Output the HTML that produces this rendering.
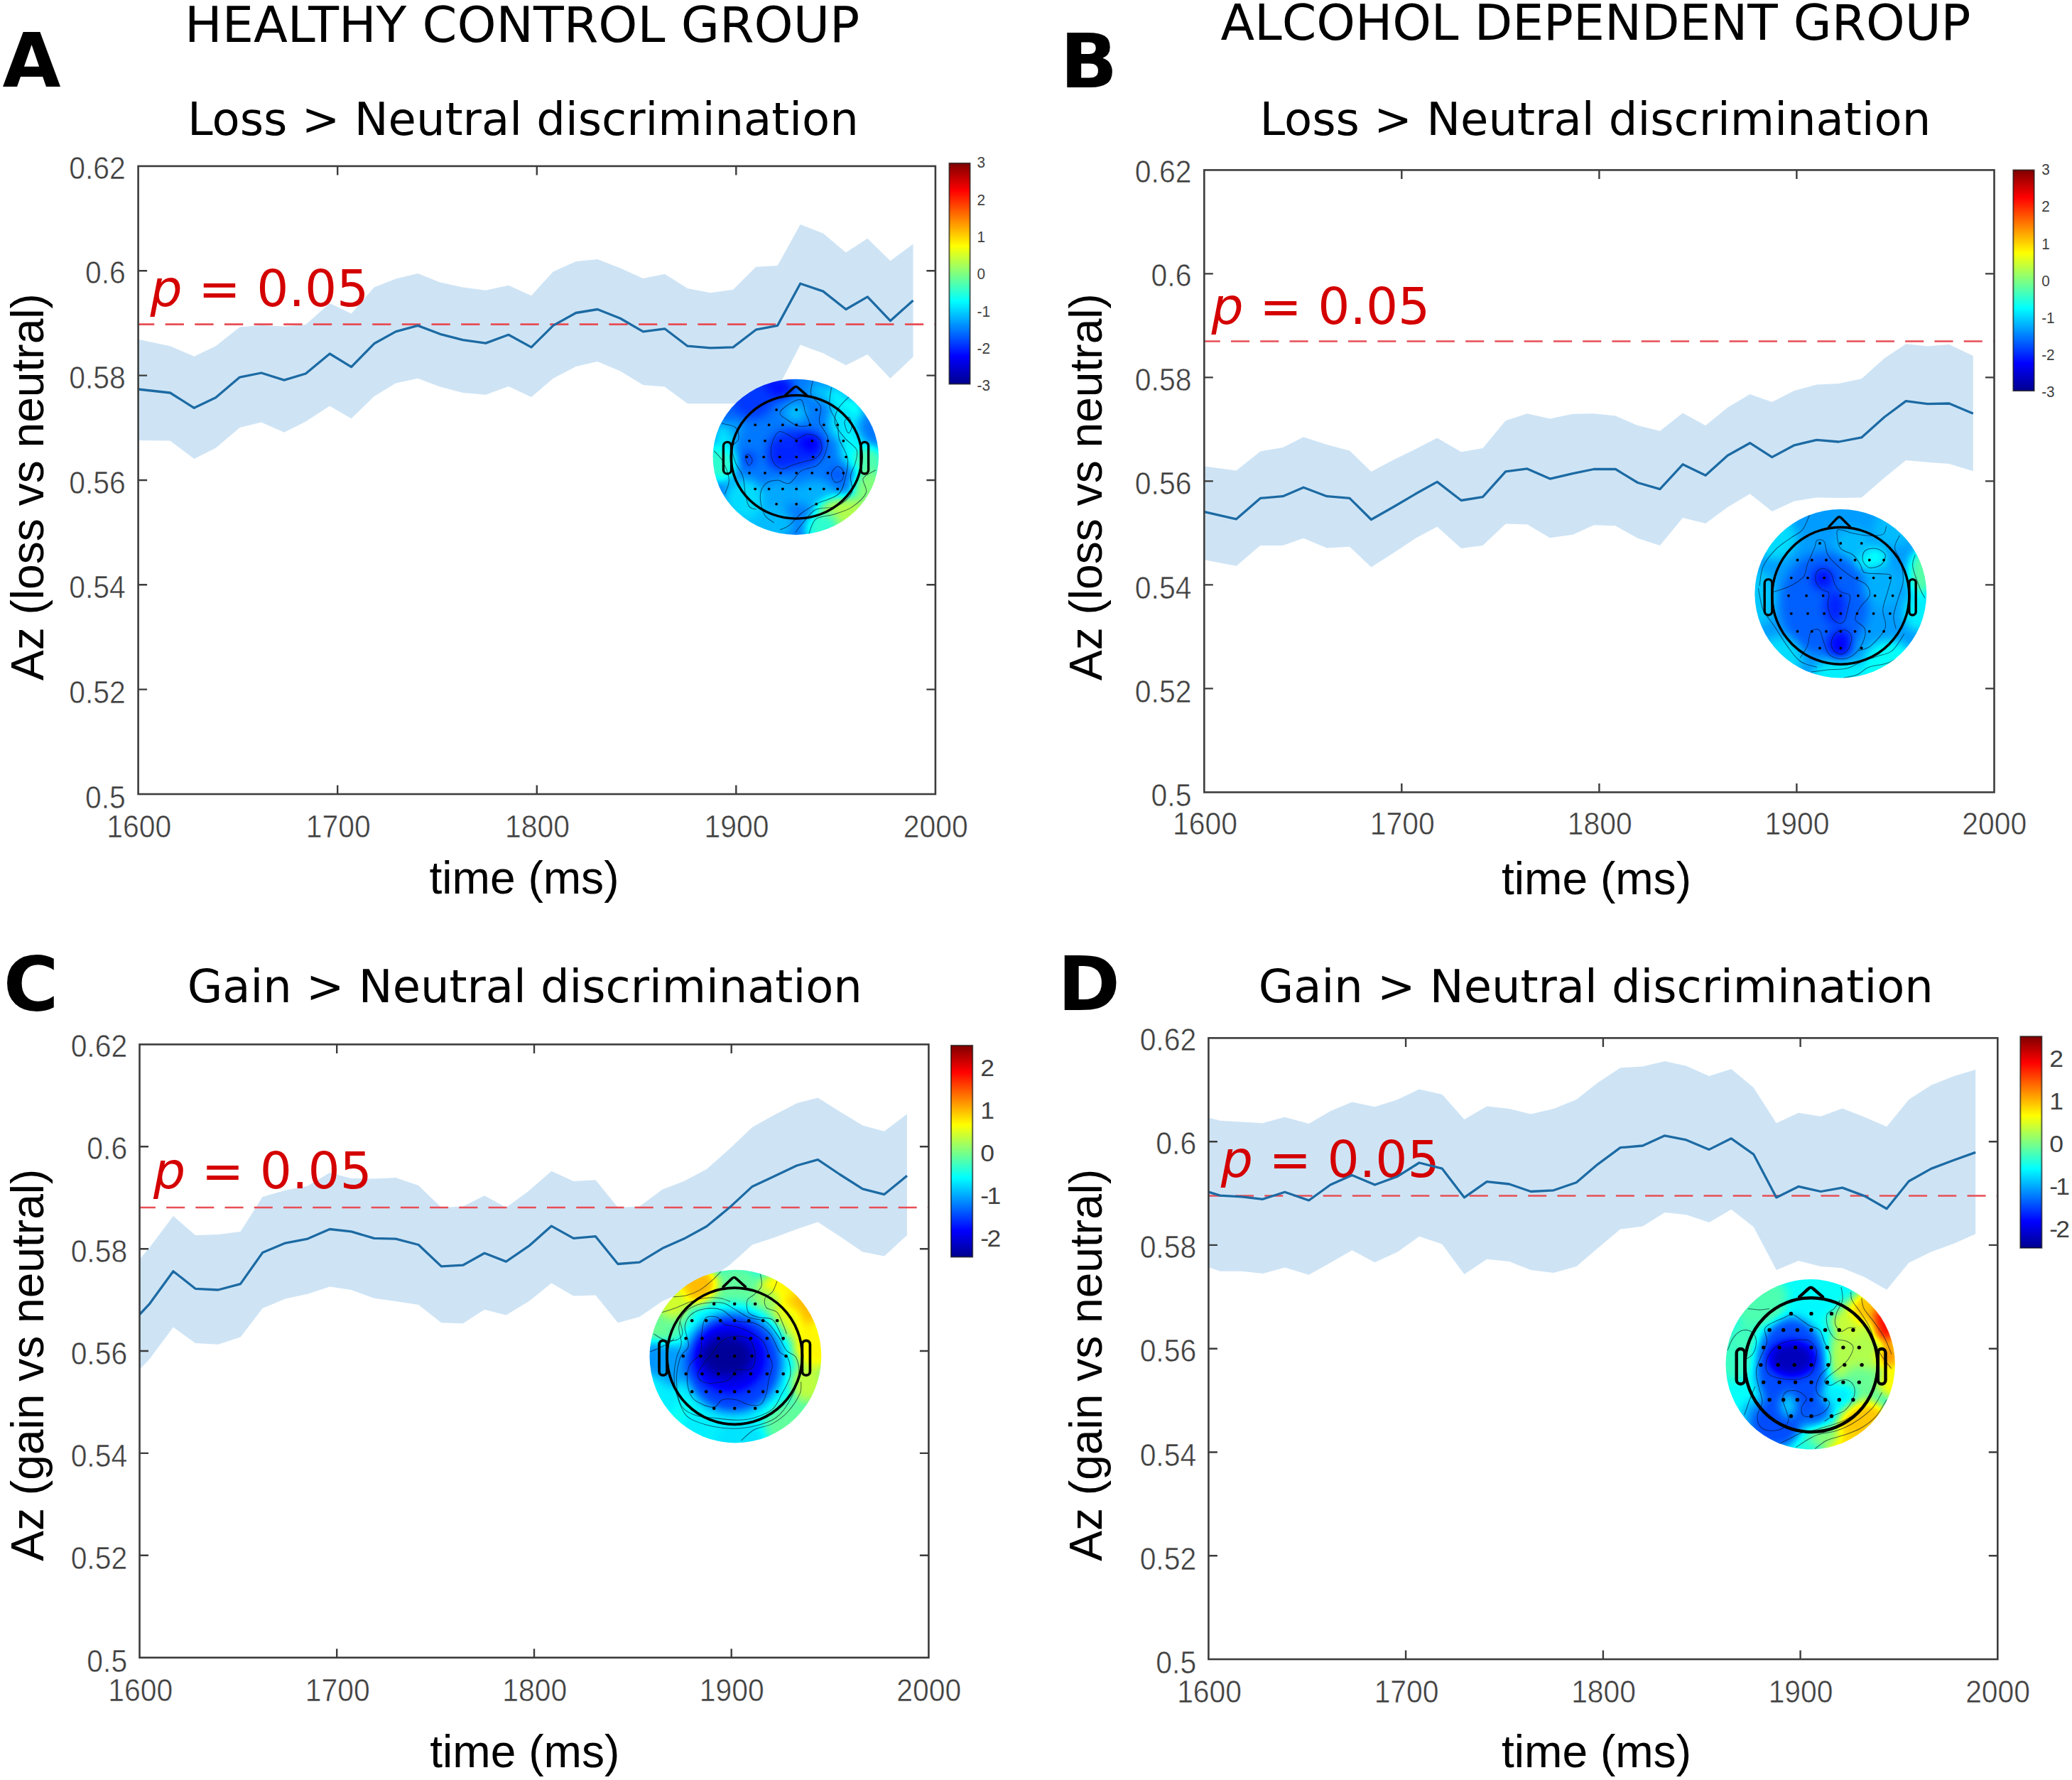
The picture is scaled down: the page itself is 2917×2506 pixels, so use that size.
<!DOCTYPE html>
<html lang="en"><head><meta charset="utf-8"><title>Figure</title>
<style>html,body{margin:0;padding:0;background:#fff}svg{display:block}.dv{font-family:"DejaVu Sans","Liberation Sans",sans-serif}.lb{font-family:"Liberation Sans","DejaVu Sans",sans-serif}</style></head><body>
<svg width="2917" height="2506" viewBox="0 0 2917 2506">
<defs>
<linearGradient id="jet" x1="0" y1="1" x2="0" y2="0"><stop offset="0" stop-color="#00008f"/><stop offset="0.125" stop-color="#0000ff"/><stop offset="0.375" stop-color="#00ffff"/><stop offset="0.625" stop-color="#ffff00"/><stop offset="0.875" stop-color="#ff0000"/><stop offset="1" stop-color="#800000"/></linearGradient>
<filter id="jetmap" x="-20%" y="-20%" width="140%" height="140%" color-interpolation-filters="sRGB"><feGaussianBlur stdDeviation="7"/><feComponentTransfer><feFuncR type="table" tableValues="0 0 0 0 0.5 1 1 1 0.5"/><feFuncG type="table" tableValues="0 0 0.5 1 1 1 0.5 0 0"/><feFuncB type="table" tableValues="0.56 1 1 1 0.5 0 0 0 0"/><feFuncA type="linear" slope="0" intercept="1"/></feComponentTransfer></filter>
<clipPath id="tcA"><ellipse cx="1120.3" cy="643.3" rx="116.7" ry="109.6"/></clipPath>
<clipPath id="tcB"><ellipse cx="2591.3" cy="835.8" rx="120.9" ry="118.8"/></clipPath>
<clipPath id="tcC"><ellipse cx="1035.4" cy="1909.6" rx="120.9" ry="121.8"/></clipPath>
<clipPath id="tcD"><ellipse cx="2548.7" cy="1920.8" rx="119.2" ry="119.7"/></clipPath>
</defs>
<rect width="2917" height="2506" fill="#fff"/>
<text class="dv" x="260.1" y="58.5" font-size="70" fill="#000">HEALTHY CONTROL GROUP</text>
<text class="dv" x="1718.4" y="55.6" font-size="69.5" fill="#000">ALCOHOL DEPENDENT GROUP</text>
<g id="panelA">
<text class="dv" x="3.5" y="122.0" font-size="106" font-weight="bold" fill="#000">A</text>
<text class="dv" x="264.0" y="190.2" font-size="64" fill="#000">Loss &gt; Neutral discrimination</text>
<polygon points="194.6,477.7 239.5,487.2 273.3,501.7 303.7,487.2 337.5,460.5 367.9,458.1 400.0,459.5 430.4,457.1 464.2,427.0 494.6,441.6 526.7,404.4 557.1,392.6 588.2,385.1 619.6,397.6 651.7,404.4 683.8,408.8 715.9,401.7 748.0,416.2 778.7,382.4 810.8,367.9 841.2,364.9 873.3,377.4 905.4,391.9 935.8,385.8 967.9,406.1 1000.0,412.2 1032.1,407.8 1064.2,375.7 1094.6,374.0 1126.7,315.9 1158.8,328.4 1190.9,355.4 1221.3,335.8 1253.4,367.2 1285.5,343.6 1285.5,502.4 1253.4,532.8 1221.3,499.0 1190.9,514.2 1158.8,497.3 1126.7,485.5 1094.9,547.0 1064.2,567.2 1032.1,568.2 1000.0,568.2 967.9,568.2 935.8,544.6 905.4,541.9 873.3,522.6 841.2,509.1 810.8,515.9 778.7,532.8 748.0,559.1 715.9,543.9 683.8,555.7 651.7,553.0 619.6,544.6 588.2,532.8 557.1,539.5 526.7,558.1 494.6,589.2 464.2,571.6 430.4,593.6 400.0,608.8 367.9,594.6 337.5,602.0 303.7,630.7 273.3,645.9 239.5,620.6 194.6,619.9" fill="#cee4f5"/>
<line x1="194.6" y1="456.7" x2="1316.9" y2="456.7" stroke="#e84e55" stroke-width="2.7" stroke-dasharray="26.30 15.35" stroke-dashoffset="3.6"/>
<text class="dv" x="211.5" y="430.5" font-size="71" fill="#d40000"><tspan font-style="italic">p</tspan> = 0.05</text>
<polyline points="194.6,548.0 239.5,553.0 273.3,574.3 303.7,559.8 337.5,531.1 367.9,525.0 400.0,535.1 430.4,526.0 464.2,498.0 494.6,516.6 526.7,483.8 557.1,466.9 588.2,458.4 619.6,470.3 651.7,478.7 683.8,483.1 715.9,471.3 748.0,488.9 778.7,458.4 810.8,440.5 841.2,435.5 873.3,448.3 905.4,466.9 935.8,462.8 967.9,487.2 1000.0,489.9 1032.1,488.9 1064.2,464.2 1094.6,458.4 1126.7,399.3 1158.8,410.1 1190.9,435.5 1221.3,417.9 1253.4,451.7 1285.5,423.0" fill="none" stroke="#1c6aa3" stroke-width="3.3" stroke-linejoin="round"/>
<g id="topoA">
<g clip-path="url(#tcA)">
<g filter="url(#jetmap)">
<rect x="963.6" y="493.7" width="313.4" height="299.2" fill="#3e3e3e"/>
<ellipse cx="1087.3" cy="546.3" rx="32.0" ry="17.0" fill="#242424"/>
<ellipse cx="1058.3" cy="563.3" rx="30.0" ry="26.0" fill="#2e2e2e"/>
<ellipse cx="1030.3" cy="593.3" rx="16.0" ry="20.0" fill="#383838"/>
<ellipse cx="1130.3" cy="544.3" rx="14.0" ry="12.0" fill="#404040"/>
<ellipse cx="1154.3" cy="550.3" rx="14.0" ry="14.0" fill="#4f4f4f"/>
<ellipse cx="1178.3" cy="559.3" rx="15.0" ry="16.0" fill="#5c5c5c"/>
<ellipse cx="1198.3" cy="579.3" rx="16.0" ry="18.0" fill="#6b6b6b"/>
<ellipse cx="1120.3" cy="581.3" rx="16.0" ry="14.0" fill="#4f4f4f"/>
<ellipse cx="1120.3" cy="631.3" rx="40.0" ry="27.0" fill="#2b2b2b"/>
<ellipse cx="1141.3" cy="623.3" rx="16.0" ry="14.0" fill="#1f1f1f"/>
<ellipse cx="1101.3" cy="643.3" rx="22.0" ry="18.0" fill="#292929"/>
<ellipse cx="1054.3" cy="646.3" rx="10.0" ry="10.0" fill="#2e2e2e"/>
<ellipse cx="1177.3" cy="668.3" rx="12.0" ry="12.0" fill="#363636"/>
<ellipse cx="1098.3" cy="695.3" rx="28.0" ry="20.0" fill="#4a4a4a"/>
<ellipse cx="1148.3" cy="695.3" rx="30.0" ry="20.0" fill="#4c4c4c"/>
<ellipse cx="1187.3" cy="595.3" rx="22.0" ry="26.0" fill="#595959"/>
<ellipse cx="1200.3" cy="631.3" rx="18.0" ry="26.0" fill="#5e5e5e"/>
<ellipse cx="1224.3" cy="651.3" rx="22.0" ry="24.0" fill="#737373"/>
<ellipse cx="1190.3" cy="738.3" rx="48.0" ry="40.0" fill="#8c8c8c"/>
<ellipse cx="1224.3" cy="688.3" rx="24.0" ry="26.0" fill="#808080"/>
<ellipse cx="1157.3" cy="743.3" rx="24.0" ry="22.0" fill="#6b6b6b"/>
<ellipse cx="1081.3" cy="738.3" rx="36.0" ry="26.0" fill="#4f4f4f"/>
<ellipse cx="1047.3" cy="703.3" rx="28.0" ry="30.0" fill="#575757"/>
<ellipse cx="1013.3" cy="651.3" rx="24.0" ry="28.0" fill="#6b6b6b"/>
<ellipse cx="1020.3" cy="615.3" rx="16.0" ry="20.0" fill="#595959"/>
<ellipse cx="1035.3" cy="601.3" rx="12.0" ry="12.0" fill="#474747"/>
</g>
<g fill="none" stroke="#06122a" stroke-opacity="0.62" stroke-width="1.05">
<path d="M1087.9 621.4C1089.7 616.6 1092.9 609.6 1096.3 607.9C1099.7 606.2 1103.9 609.6 1108.1 611.2C1112.3 612.9 1116.8 618.0 1121.6 618.0C1126.4 618.0 1131.7 611.5 1136.8 611.2C1141.8 611.0 1148.5 612.9 1151.9 616.3C1155.3 619.7 1157.5 626.7 1157.0 631.5C1156.4 636.2 1152.8 641.9 1148.5 645.0C1144.3 648.0 1137.3 648.3 1131.7 650.0C1126.1 651.7 1119.9 653.4 1114.8 655.1C1109.8 656.8 1105.6 660.7 1101.4 660.1C1097.1 659.6 1092.2 655.6 1089.6 651.7C1086.9 647.8 1085.6 641.6 1085.3 636.5C1085.1 631.5 1086.0 626.1 1087.9 621.4Z"/>
<path d="M1098.0 580.9C1098.8 577.0 1108.1 570.4 1113.2 567.4C1118.2 564.5 1125.0 561.2 1128.3 563.2C1131.7 565.2 1131.6 573.5 1133.4 579.2C1135.2 585.0 1141.0 594.4 1139.3 597.8C1137.6 601.1 1128.5 600.6 1123.3 599.4C1118.1 598.3 1112.3 594.1 1108.1 591.0C1103.9 587.9 1097.1 584.8 1098.0 580.9Z"/>
<path d="M1144.3 536.2C1143.9 539.5 1140.0 549.6 1141.8 555.6C1143.6 561.7 1153.3 566.0 1155.3 572.5C1157.3 578.9 1151.9 587.1 1153.6 594.4C1155.3 601.7 1164.1 608.7 1165.4 616.3C1166.7 623.9 1163.7 633.4 1161.2 639.9C1158.7 646.4 1155.7 651.3 1150.2 655.1C1144.8 658.9 1134.8 658.4 1128.3 662.6C1121.9 666.9 1117.1 678.1 1111.5 680.3C1105.8 682.6 1100.2 676.0 1094.6 676.1C1089.0 676.3 1081.8 677.4 1077.8 681.2C1073.7 685.0 1070.5 691.7 1070.2 698.9C1069.9 706.1 1072.8 718.0 1076.1 724.2C1079.3 730.4 1087.3 734.0 1089.6 736.0"/>
<path d="M1170.5 545.5C1170.0 550.0 1166.5 564.0 1167.9 572.5C1169.3 580.9 1176.6 588.5 1178.9 596.1C1181.1 603.7 1179.0 609.8 1181.4 618.0C1183.8 626.1 1191.7 636.2 1193.2 645.0C1194.8 653.7 1192.8 661.8 1190.7 670.2C1188.6 678.7 1187.3 689.1 1180.6 695.5C1173.8 702.0 1158.9 704.5 1150.2 709.0C1141.5 713.5 1134.8 717.4 1128.3 722.5C1121.9 727.5 1116.5 735.4 1111.5 739.3C1106.4 743.3 1100.2 745.0 1098.0 746.1"/>
<path d="M1196.6 557.3C1193.8 560.4 1183.2 569.4 1179.7 575.8C1176.2 582.3 1174.0 589.3 1175.5 596.1C1177.1 602.8 1183.9 610.1 1189.0 616.3C1194.1 622.5 1203.3 627.3 1205.9 633.2C1208.4 639.1 1205.6 645.5 1204.2 651.7C1202.8 657.9 1198.3 663.2 1197.4 670.2C1196.6 677.3 1202.2 686.8 1199.1 693.8C1196.0 700.9 1187.3 708.4 1178.9 712.4C1170.5 716.3 1156.4 713.8 1148.5 717.4C1140.7 721.1 1136.5 728.9 1131.7 734.3C1126.9 739.6 1121.9 746.9 1119.9 749.5"/>
<path d="M1170.5 666.9C1171.0 663.2 1176.1 657.3 1178.9 656.8C1181.7 656.2 1186.2 660.4 1187.3 663.5C1188.4 666.6 1187.6 672.8 1185.6 675.3C1183.7 677.8 1178.0 680.1 1175.5 678.7C1173.0 677.3 1169.9 670.5 1170.5 666.9Z"/>
<path d="M1049.1 643.3C1049.1 640.7 1052.5 639.1 1054.2 639.9C1055.8 640.7 1059.2 645.8 1059.2 648.3C1059.2 650.9 1055.8 655.9 1054.2 655.1C1052.5 654.2 1049.1 645.8 1049.1 643.3Z"/>
<path d="M1016.2 596.1C1019.5 597.1 1031.7 598.3 1035.6 602.0C1039.6 605.6 1040.7 613.3 1039.8 618.0C1039.0 622.6 1031.3 624.2 1030.6 629.8C1029.9 635.4 1033.1 645.0 1035.6 651.7C1038.1 658.4 1043.5 663.2 1045.7 670.2C1048.0 677.3 1047.7 686.8 1049.1 693.8C1050.5 700.9 1051.6 708.4 1054.2 712.4C1056.7 716.3 1062.6 716.6 1064.3 717.4"/>
<path d="M1005.3 634.8C1007.4 637.4 1014.4 643.3 1017.9 650.0C1021.4 656.8 1025.9 667.7 1026.4 675.3C1026.8 682.9 1021.4 692.1 1020.5 695.5"/>
<path d="M1138.4 752.8C1140.1 749.2 1142.6 735.7 1148.5 730.9C1154.4 726.1 1165.4 727.0 1173.8 724.2C1182.3 721.4 1191.5 719.1 1199.1 714.1C1206.7 709.0 1216.7 700.6 1219.3 693.8C1222.0 687.1 1212.9 678.9 1215.1 673.6C1217.4 668.3 1229.9 663.8 1232.8 661.8"/>
<path d="M1189.0 594.4C1189.3 590.7 1194.1 586.5 1195.7 587.6C1197.4 588.8 1199.4 597.5 1199.1 601.1C1198.8 604.8 1195.7 610.7 1194.1 609.6C1192.4 608.4 1188.7 598.0 1189.0 594.4Z"/>
</g>
</g>
<g fill="none" stroke="#000" stroke-width="3.4" stroke-linejoin="round" stroke-linecap="round">
<path d="M1105.6 556.4L1117.2 546.1Q1120.5 542.6 1123.8 546.1L1135.6 556.4"/>
<ellipse cx="1121.2" cy="643.3" rx="92.0" ry="86.8"/>
<rect x="1018.4" y="622.4" width="11.2" height="44.6" rx="5.6"/>
<rect x="1212.0" y="622.4" width="10.6" height="44.6" rx="5.3"/>
</g>
<g fill="#000"><circle cx="1121.2" cy="576.9" r="1.9"/><circle cx="1149.3" cy="576.9" r="1.9"/><circle cx="1093.1" cy="576.9" r="1.9"/><circle cx="1121.2" cy="598.2" r="1.9"/><circle cx="1140.5" cy="598.2" r="1.9"/><circle cx="1101.9" cy="598.2" r="1.9"/><circle cx="1159.8" cy="598.2" r="1.9"/><circle cx="1082.6" cy="598.2" r="1.9"/><circle cx="1179.2" cy="598.2" r="1.9"/><circle cx="1063.2" cy="598.2" r="1.9"/><circle cx="1121.2" cy="620.7" r="1.9"/><circle cx="1143.3" cy="620.7" r="1.9"/><circle cx="1099.1" cy="620.7" r="1.9"/><circle cx="1165.4" cy="620.7" r="1.9"/><circle cx="1077.0" cy="620.7" r="1.9"/><circle cx="1187.4" cy="620.7" r="1.9"/><circle cx="1055.0" cy="620.7" r="1.9"/><circle cx="1121.2" cy="643.3" r="1.9"/><circle cx="1144.7" cy="643.3" r="1.9"/><circle cx="1097.7" cy="643.3" r="1.9"/><circle cx="1167.2" cy="643.3" r="1.9"/><circle cx="1075.2" cy="643.3" r="1.9"/><circle cx="1191.1" cy="643.3" r="1.9"/><circle cx="1051.3" cy="643.3" r="1.9"/><circle cx="1121.2" cy="665.9" r="1.9"/><circle cx="1143.3" cy="665.9" r="1.9"/><circle cx="1099.1" cy="665.9" r="1.9"/><circle cx="1165.4" cy="665.9" r="1.9"/><circle cx="1077.0" cy="665.9" r="1.9"/><circle cx="1187.4" cy="665.9" r="1.9"/><circle cx="1055.0" cy="665.9" r="1.9"/><circle cx="1121.2" cy="688.4" r="1.9"/><circle cx="1140.5" cy="688.4" r="1.9"/><circle cx="1101.9" cy="688.4" r="1.9"/><circle cx="1159.8" cy="688.4" r="1.9"/><circle cx="1082.6" cy="688.4" r="1.9"/><circle cx="1179.2" cy="688.4" r="1.9"/><circle cx="1063.2" cy="688.4" r="1.9"/><circle cx="1121.2" cy="709.7" r="1.9"/><circle cx="1149.3" cy="709.7" r="1.9"/><circle cx="1093.1" cy="709.7" r="1.9"/></g>
</g>
<rect x="194.6" y="233.9" width="1122.3" height="884.1" fill="none" stroke="#3c3c3c" stroke-width="2.6"/>
<path d="M475.2 1118.0v-12.5M475.2 233.9v12.5M755.8 1118.0v-12.5M755.8 233.9v12.5M1036.3 1118.0v-12.5M1036.3 233.9v12.5M194.6 381.2h12.5M1316.9 381.2h-12.5M194.6 528.6h12.5M1316.9 528.6h-12.5M194.6 676.0h12.5M1316.9 676.0h-12.5M194.6 823.3h12.5M1316.9 823.3h-12.5M194.6 970.6h12.5M1316.9 970.6h-12.5" stroke="#3c3c3c" stroke-width="2.4" fill="none"/>
<g class="lb" font-size="41.5" fill="#404040" stroke="#fff" stroke-width="0.5">
<text transform="translate(176.8 251.5) scale(0.985 1.085)" text-anchor="end">0.62</text>
<text transform="translate(176.8 399.2) scale(0.985 1.085)" text-anchor="end">0.6</text>
<text transform="translate(176.8 547.0) scale(0.985 1.085)" text-anchor="end">0.58</text>
<text transform="translate(176.8 694.7) scale(0.985 1.085)" text-anchor="end">0.56</text>
<text transform="translate(176.8 842.4) scale(0.985 1.085)" text-anchor="end">0.54</text>
<text transform="translate(176.8 990.1) scale(0.985 1.085)" text-anchor="end">0.52</text>
<text transform="translate(176.8 1137.9) scale(0.985 1.085)" text-anchor="end">0.5</text>
<text transform="translate(195.8 1179.2) scale(0.985 1.085)" text-anchor="middle">1600</text>
<text transform="translate(476.2 1179.2) scale(0.985 1.085)" text-anchor="middle">1700</text>
<text transform="translate(756.5 1179.2) scale(0.985 1.085)" text-anchor="middle">1800</text>
<text transform="translate(1036.9 1179.2) scale(0.985 1.085)" text-anchor="middle">1900</text>
<text transform="translate(1317.2 1179.2) scale(0.985 1.085)" text-anchor="middle">2000</text>
</g>
<text class="lb" x="738.0" y="1258.2" font-size="64.1" text-anchor="middle" fill="#000">time (ms)</text>
<text class="lb" transform="translate(60.7 685.6) rotate(-90)" font-size="64.1" text-anchor="middle" fill="#000">Az (loss vs neutral)</text>
<rect x="1336.4" y="229.8" width="29.2" height="310.8" fill="url(#jet)" stroke="#000" stroke-opacity="0.6" stroke-width="2"/>
<g class="lb" font-size="18.5" fill="#404040">
<text transform="translate(1375.6 236.4) scale(1.12 1.16)">3</text>
<text transform="translate(1375.6 288.7) scale(1.12 1.16)">2</text>
<text transform="translate(1375.6 341.0) scale(1.12 1.16)">1</text>
<text transform="translate(1375.6 393.3) scale(1.12 1.16)">0</text>
<text transform="translate(1375.6 445.6) scale(1.12 1.16)">-1</text>
<text transform="translate(1375.6 497.9) scale(1.12 1.16)">-2</text>
<text transform="translate(1375.6 550.2) scale(1.12 1.16)">-3</text>
</g>
</g>
<g id="panelB">
<text class="dv" x="1492.6" y="122.5" font-size="106" font-weight="bold" fill="#000">B</text>
<text class="dv" x="1773.5" y="190.2" font-size="64" fill="#000">Loss &gt; Neutral discrimination</text>
<polygon points="1695.6,656.5 1740.5,662.6 1774.3,635.5 1806.1,630.1 1835.1,615.3 1867.9,626.1 1900.0,634.5 1930.4,663.9 1962.5,647.0 1992.9,632.2 2023.3,616.6 2057.1,636.2 2087.5,631.1 2119.6,592.3 2150.0,582.2 2182.1,589.6 2214.2,582.8 2244.0,582.2 2274.4,585.5 2305.5,599.1 2336.9,606.8 2369.0,581.5 2401.1,599.1 2432.2,573.7 2463.6,555.1 2494.7,565.9 2526.1,550.1 2557.5,541.6 2588.6,539.9 2620.7,533.2 2652.8,504.5 2683.2,484.2 2713.6,487.6 2744.0,484.9 2777.8,501.1 2777.8,663.2 2744.0,653.1 2713.6,650.7 2683.2,648.0 2652.8,672.7 2620.7,700.4 2588.6,701.1 2557.5,700.4 2526.1,705.5 2494.7,720.0 2463.6,695.3 2432.2,713.9 2401.1,736.9 2369.0,729.1 2336.9,768.0 2305.5,757.8 2274.4,740.3 2244.0,739.3 2214.2,752.8 2182.1,757.2 2150.0,738.2 2119.6,737.6 2087.5,768.0 2057.1,772.0 2023.3,741.6 1992.9,757.8 1962.5,778.1 1930.4,798.4 1900.0,769.7 1867.9,771.4 1835.1,757.8 1806.1,768.0 1774.3,768.0 1740.5,796.7 1695.6,788.2" fill="#cee4f5"/>
<line x1="1695.3" y1="480.5" x2="2807.5" y2="480.5" stroke="#e84e55" stroke-width="2.7" stroke-dasharray="26.06 15.21" stroke-dashoffset="3.6"/>
<text class="dv" x="1705.5" y="455.8" font-size="71" fill="#d40000"><tspan font-style="italic">p</tspan> = 0.05</text>
<polyline points="1695.6,720.7 1740.5,730.8 1774.3,701.4 1806.1,698.7 1835.1,686.2 1867.9,698.7 1900.0,701.4 1930.4,731.5 1962.5,713.2 1992.9,695.3 2023.3,678.4 2057.1,704.5 2087.5,699.7 2119.6,663.9 2150.0,659.9 2182.1,674.1 2214.2,666.6 2244.0,660.5 2274.4,660.5 2305.5,679.5 2336.9,688.6 2369.0,653.8 2401.1,669.3 2432.2,641.3 2463.6,623.7 2494.7,643.6 2526.1,626.8 2557.5,619.3 2588.6,622.0 2620.7,615.9 2652.8,587.2 2683.2,564.6 2713.6,568.6 2744.0,568.0 2777.8,582.2" fill="none" stroke="#1c6aa3" stroke-width="3.3" stroke-linejoin="round"/>
<g id="topoB">
<g clip-path="url(#tcB)">
<g filter="url(#jetmap)">
<rect x="2430.4" y="677.0" width="321.8" height="317.6" fill="#474747"/>
<ellipse cx="2568.3" cy="849.8" rx="62.0" ry="72.0" fill="#383838"/>
<ellipse cx="2566.3" cy="814.8" rx="15.0" ry="15.0" fill="#242424"/>
<ellipse cx="2583.3" cy="854.8" rx="15.0" ry="24.0" fill="#292929"/>
<ellipse cx="2590.3" cy="907.8" rx="17.0" ry="21.0" fill="#212121"/>
<ellipse cx="2634.3" cy="785.8" rx="23.0" ry="16.0" fill="#616161"/>
<ellipse cx="2608.3" cy="765.8" rx="25.0" ry="22.0" fill="#4f4f4f"/>
<ellipse cx="2650.3" cy="824.8" rx="28.0" ry="30.0" fill="#4c4c4c"/>
<ellipse cx="2499.3" cy="757.8" rx="30.0" ry="30.0" fill="#575757"/>
<ellipse cx="2477.3" cy="841.8" rx="22.0" ry="40.0" fill="#525252"/>
<ellipse cx="2507.3" cy="925.8" rx="30.0" ry="30.0" fill="#575757"/>
<ellipse cx="2591.3" cy="951.8" rx="40.0" ry="24.0" fill="#5c5c5c"/>
<ellipse cx="2659.3" cy="935.8" rx="36.0" ry="34.0" fill="#616161"/>
<ellipse cx="2705.3" cy="807.8" rx="18.0" ry="34.0" fill="#757575"/>
<ellipse cx="2701.3" cy="860.8" rx="22.0" ry="28.0" fill="#5c5c5c"/>
<ellipse cx="2667.3" cy="743.8" rx="30.0" ry="26.0" fill="#4f4f4f"/>
</g>
<g fill="none" stroke="#06122a" stroke-opacity="0.62" stroke-width="1.05">
<path d="M2556.3 818.1C2555.2 813.9 2556.0 807.6 2558.0 804.6C2560.0 801.7 2564.7 799.8 2568.1 800.4C2571.5 801.0 2575.7 804.2 2578.2 808.0C2580.7 811.8 2581.0 818.9 2583.3 823.2C2585.5 827.4 2588.2 830.7 2591.7 833.3C2595.2 835.8 2602.6 834.7 2604.3 838.3C2606.0 842.0 2603.1 849.3 2601.8 855.2C2600.5 861.1 2599.0 870.1 2596.8 873.7C2594.5 877.4 2591.4 877.9 2588.3 877.1C2585.2 876.2 2580.7 872.9 2578.2 868.7C2575.7 864.4 2573.7 857.4 2573.2 851.8C2572.6 846.2 2576.2 838.6 2574.8 835.0C2573.4 831.3 2567.8 832.7 2564.7 829.9C2561.6 827.1 2557.4 822.3 2556.3 818.1Z"/>
<path d="M2578.2 904.1C2578.8 899.8 2581.6 893.4 2585.0 890.6C2588.3 887.8 2594.8 886.1 2598.4 887.2C2602.1 888.3 2606.3 892.8 2606.9 897.3C2607.4 901.8 2604.3 910.2 2601.8 914.2C2599.3 918.1 2595.1 920.6 2591.7 920.9C2588.3 921.2 2583.8 918.7 2581.6 915.9C2579.3 913.0 2577.6 908.3 2578.2 904.1Z"/>
<path d="M2497.3 833.3C2501.2 831.9 2513.9 828.5 2520.9 824.8C2527.9 821.2 2535.5 816.4 2539.4 811.4C2543.4 806.3 2542.0 801.2 2544.5 794.5C2547.0 787.8 2552.4 776.5 2554.6 770.9C2556.9 765.3 2555.7 762.2 2558.0 760.8C2560.2 759.4 2565.6 759.1 2568.1 762.5C2570.6 765.8 2569.8 775.1 2573.2 781.0C2576.5 786.9 2582.4 792.5 2588.3 797.9C2594.2 803.2 2602.1 808.8 2608.5 813.0C2615.0 817.3 2623.2 818.9 2627.1 823.2C2631.0 827.4 2633.6 833.0 2632.1 838.3C2630.7 843.7 2622.0 849.6 2618.7 855.2C2615.3 860.8 2610.8 867.0 2611.9 872.0C2613.0 877.1 2623.7 879.9 2625.4 885.5C2627.1 891.1 2624.8 899.6 2622.0 905.7C2619.2 911.9 2613.6 918.9 2608.5 922.6C2603.5 926.2 2597.3 927.9 2591.7 927.7C2586.1 927.4 2579.1 925.4 2574.8 920.9C2570.6 916.4 2568.7 906.3 2566.4 900.7C2564.2 895.1 2564.2 889.2 2561.4 887.2C2558.5 885.2 2552.4 885.2 2549.6 888.9C2546.7 892.5 2547.0 902.9 2544.5 909.1C2542.0 915.3 2536.1 923.2 2534.4 926.0"/>
<path d="M2622.0 784.4C2622.3 781.0 2623.7 776.2 2627.1 774.3C2630.5 772.3 2637.8 771.5 2642.3 772.6C2646.8 773.7 2652.9 777.4 2654.1 781.0C2655.2 784.7 2652.4 791.4 2649.0 794.5C2645.6 797.6 2637.8 799.6 2633.8 799.6C2629.9 799.6 2627.4 797.0 2625.4 794.5C2623.4 792.0 2621.8 787.8 2622.0 784.4Z"/>
<path d="M2655.7 740.6C2654.9 742.5 2655.2 750.1 2650.7 752.4C2646.2 754.6 2635.8 754.3 2628.8 754.0C2621.8 753.8 2615.3 752.1 2608.5 750.7C2601.8 749.3 2592.0 744.5 2588.3 745.6C2584.7 746.7 2586.1 752.9 2586.6 757.4C2587.2 761.9 2588.0 768.7 2591.7 772.6C2595.3 776.5 2604.1 777.4 2608.5 781.0C2613.0 784.7 2615.9 790.3 2618.7 794.5C2621.5 798.7 2620.1 804.1 2625.4 806.3C2630.7 808.5 2644.5 807.1 2650.7 808.0C2656.9 808.8 2661.4 807.1 2662.5 811.4C2663.6 815.6 2659.4 825.4 2657.4 833.3C2655.5 841.1 2651.2 850.1 2650.7 858.5C2650.1 867.0 2656.9 875.4 2654.1 883.8C2651.2 892.3 2640.0 903.8 2633.8 909.1C2627.7 914.5 2619.8 914.7 2617.0 915.9"/>
<path d="M2547.9 723.7C2546.2 727.4 2542.3 740.0 2537.8 745.6C2533.3 751.2 2527.4 752.6 2520.9 757.4C2514.4 762.2 2505.5 767.5 2499.0 774.3C2492.5 781.0 2485.8 789.4 2482.1 797.9C2478.5 806.3 2477.9 820.3 2477.1 824.8"/>
<path d="M2475.4 828.2C2476.5 833.3 2478.5 849.8 2482.1 858.5C2485.8 867.3 2491.7 872.0 2497.3 880.5C2502.9 888.9 2509.7 900.7 2515.8 909.1C2522.0 917.5 2527.4 926.0 2534.4 931.0C2541.4 936.1 2554.1 938.0 2558.0 939.5"/>
<path d="M2674.3 754.0C2673.2 756.9 2667.3 764.7 2667.5 770.9C2667.8 777.1 2674.0 783.3 2676.0 791.1C2677.9 799.0 2679.9 809.7 2679.3 818.1C2678.8 826.5 2674.8 833.5 2672.6 841.7C2670.4 849.8 2666.4 859.7 2665.9 867.0C2665.3 874.3 2668.7 882.4 2669.2 885.5"/>
<path d="M2696.2 781.0C2695.6 783.8 2691.7 790.0 2692.8 797.9C2693.9 805.7 2700.1 820.9 2702.9 828.2C2705.7 835.5 2708.6 839.4 2709.7 841.7"/>
<path d="M2549.6 946.2C2553.8 945.6 2566.4 943.7 2574.8 942.8C2583.3 942.0 2592.3 943.1 2600.1 941.1C2608.0 939.2 2615.0 933.8 2622.0 931.0C2629.1 928.2 2635.2 926.8 2642.3 924.3C2649.3 921.8 2657.7 921.2 2664.2 915.9C2670.6 910.5 2678.2 896.2 2681.0 892.3"/>
<path d="M2595.1 954.6C2598.4 953.8 2609.4 952.1 2615.3 949.6C2621.2 947.0 2623.2 942.3 2630.5 939.5C2637.8 936.6 2650.1 936.4 2659.1 932.7C2668.1 929.1 2680.2 920.1 2684.4 917.5"/>
</g>
</g>
<g fill="none" stroke="#000" stroke-width="3.4" stroke-linejoin="round" stroke-linecap="round">
<path d="M2574.8 741.6L2586.1 729.7Q2589.3 725.7 2592.7 729.7L2604.6 741.6"/>
<ellipse cx="2591.3" cy="838.7" rx="96.5" ry="96.5"/>
<rect x="2484.2" y="815.6" width="10.7" height="50.4" rx="5.4"/>
<rect x="2687.8" y="815.6" width="9.4" height="50.4" rx="4.7"/>
</g>
<g fill="#000"><circle cx="2591.3" cy="764.9" r="1.9"/><circle cx="2620.7" cy="764.9" r="1.9"/><circle cx="2561.9" cy="764.9" r="1.9"/><circle cx="2591.3" cy="788.5" r="1.9"/><circle cx="2611.6" cy="788.5" r="1.9"/><circle cx="2571.0" cy="788.5" r="1.9"/><circle cx="2631.8" cy="788.5" r="1.9"/><circle cx="2550.8" cy="788.5" r="1.9"/><circle cx="2652.1" cy="788.5" r="1.9"/><circle cx="2530.5" cy="788.5" r="1.9"/><circle cx="2591.3" cy="813.6" r="1.9"/><circle cx="2614.5" cy="813.6" r="1.9"/><circle cx="2568.1" cy="813.6" r="1.9"/><circle cx="2637.6" cy="813.6" r="1.9"/><circle cx="2545.0" cy="813.6" r="1.9"/><circle cx="2660.8" cy="813.6" r="1.9"/><circle cx="2521.8" cy="813.6" r="1.9"/><circle cx="2591.3" cy="838.7" r="1.9"/><circle cx="2615.9" cy="838.7" r="1.9"/><circle cx="2566.7" cy="838.7" r="1.9"/><circle cx="2639.6" cy="838.7" r="1.9"/><circle cx="2543.1" cy="838.7" r="1.9"/><circle cx="2664.6" cy="838.7" r="1.9"/><circle cx="2518.0" cy="838.7" r="1.9"/><circle cx="2591.3" cy="863.8" r="1.9"/><circle cx="2614.5" cy="863.8" r="1.9"/><circle cx="2568.1" cy="863.8" r="1.9"/><circle cx="2637.6" cy="863.8" r="1.9"/><circle cx="2545.0" cy="863.8" r="1.9"/><circle cx="2660.8" cy="863.8" r="1.9"/><circle cx="2521.8" cy="863.8" r="1.9"/><circle cx="2591.3" cy="888.9" r="1.9"/><circle cx="2611.6" cy="888.9" r="1.9"/><circle cx="2571.0" cy="888.9" r="1.9"/><circle cx="2631.8" cy="888.9" r="1.9"/><circle cx="2550.8" cy="888.9" r="1.9"/><circle cx="2652.1" cy="888.9" r="1.9"/><circle cx="2530.5" cy="888.9" r="1.9"/><circle cx="2591.3" cy="912.5" r="1.9"/><circle cx="2620.7" cy="912.5" r="1.9"/><circle cx="2561.9" cy="912.5" r="1.9"/></g>
</g>
<rect x="1695.3" y="239.4" width="1112.2" height="876.0" fill="none" stroke="#3c3c3c" stroke-width="2.6"/>
<path d="M1973.3 1115.4v-12.5M1973.3 239.4v12.5M2251.4 1115.4v-12.5M2251.4 239.4v12.5M2529.4 1115.4v-12.5M2529.4 239.4v12.5M1695.3 385.4h12.5M2807.5 385.4h-12.5M1695.3 531.4h12.5M2807.5 531.4h-12.5M1695.3 677.4h12.5M2807.5 677.4h-12.5M1695.3 823.4h12.5M2807.5 823.4h-12.5M1695.3 969.4h12.5M2807.5 969.4h-12.5" stroke="#3c3c3c" stroke-width="2.4" fill="none"/>
<g class="lb" font-size="41.5" fill="#404040" stroke="#fff" stroke-width="0.5">
<text transform="translate(1677.4 257.0) scale(0.985 1.085)" text-anchor="end">0.62</text>
<text transform="translate(1677.4 403.4) scale(0.985 1.085)" text-anchor="end">0.6</text>
<text transform="translate(1677.4 549.8) scale(0.985 1.085)" text-anchor="end">0.58</text>
<text transform="translate(1677.4 696.1) scale(0.985 1.085)" text-anchor="end">0.56</text>
<text transform="translate(1677.4 842.5) scale(0.985 1.085)" text-anchor="end">0.54</text>
<text transform="translate(1677.4 988.9) scale(0.985 1.085)" text-anchor="end">0.52</text>
<text transform="translate(1677.4 1135.3) scale(0.985 1.085)" text-anchor="end">0.5</text>
<text transform="translate(1696.5 1175.3) scale(0.985 1.085)" text-anchor="middle">1600</text>
<text transform="translate(1974.3 1175.3) scale(0.985 1.085)" text-anchor="middle">1700</text>
<text transform="translate(2252.2 1175.3) scale(0.985 1.085)" text-anchor="middle">1800</text>
<text transform="translate(2530.0 1175.3) scale(0.985 1.085)" text-anchor="middle">1900</text>
<text transform="translate(2807.8 1175.3) scale(0.985 1.085)" text-anchor="middle">2000</text>
</g>
<text class="lb" x="2247.5" y="1258.5" font-size="64.1" text-anchor="middle" fill="#000">time (ms)</text>
<text class="lb" transform="translate(1550.8 685.6) rotate(-90)" font-size="64.1" text-anchor="middle" fill="#000">Az (loss vs neutral)</text>
<rect x="2834.3" y="239.4" width="29.4" height="310.8" fill="url(#jet)" stroke="#000" stroke-opacity="0.6" stroke-width="2"/>
<g class="lb" font-size="18.5" fill="#404040">
<text transform="translate(2874.2 246.1) scale(1.12 1.16)">3</text>
<text transform="translate(2874.2 298.3) scale(1.12 1.16)">2</text>
<text transform="translate(2874.2 350.5) scale(1.12 1.16)">1</text>
<text transform="translate(2874.2 402.7) scale(1.12 1.16)">0</text>
<text transform="translate(2874.2 454.9) scale(1.12 1.16)">-1</text>
<text transform="translate(2874.2 507.1) scale(1.12 1.16)">-2</text>
<text transform="translate(2874.2 559.3) scale(1.12 1.16)">-3</text>
</g>
</g>
<g id="panelC">
<text class="dv" x="4.8" y="1422.6" font-size="106" font-weight="bold" fill="#000">C</text>
<text class="dv" x="263.8" y="1410.5" font-size="63.9" fill="#000">Gain &gt; Neutral discrimination</text>
<polygon points="196.6,1772.8 210.8,1755.9 243.9,1712.0 275.0,1739.0 307.1,1738.0 338.5,1733.9 369.6,1684.9 401.7,1675.8 433.1,1669.7 464.2,1651.1 494.6,1658.9 526.7,1659.6 557.1,1657.9 589.2,1669.1 621.3,1700.1 651.7,1698.4 682.1,1683.2 712.5,1700.1 744.6,1676.5 776.4,1648.8 807.4,1663.0 838.5,1661.3 869.9,1700.1 900.3,1698.4 932.4,1674.8 962.8,1663.0 994.9,1646.1 1027.0,1617.4 1059.1,1587.0 1089.5,1570.1 1121.6,1553.2 1151.4,1545.4 1182.4,1565.0 1214.5,1584.6 1244.9,1592.7 1277.0,1568.4 1277.0,1739.0 1244.9,1768.4 1214.5,1762.6 1182.4,1740.7 1151.4,1720.4 1121.6,1730.5 1089.5,1742.4 1059.1,1752.5 1027.0,1781.2 994.9,1803.2 962.8,1818.4 932.4,1831.9 900.3,1853.9 869.9,1862.3 838.5,1823.4 807.4,1824.5 776.4,1806.6 744.6,1831.9 712.5,1851.5 682.1,1843.7 651.7,1863.3 621.3,1862.3 589.2,1837.0 557.1,1831.9 526.7,1827.8 494.6,1816.0 464.2,1811.6 433.1,1821.8 401.7,1828.5 369.6,1842.0 338.5,1882.6 307.1,1892.7 275.0,1891.0 243.9,1868.4 210.8,1913.0 196.6,1928.2" fill="#cee4f5"/>
<line x1="196.5" y1="1700.0" x2="1307.4" y2="1700.0" stroke="#e84e55" stroke-width="2.7" stroke-dasharray="26.03 15.19" stroke-dashoffset="3.6"/>
<text class="dv" x="216" y="1672.5" font-size="71" fill="#d40000"><tspan font-style="italic">p</tspan> = 0.05</text>
<polyline points="196.6,1850.5 210.8,1835.3 243.9,1789.7 275.0,1814.3 307.1,1816.0 338.5,1807.6 369.6,1763.6 401.7,1750.1 433.1,1744.1 464.2,1730.5 494.6,1733.9 526.7,1743.4 557.1,1744.1 589.2,1752.5 621.3,1782.9 651.7,1781.2 682.1,1764.3 712.5,1776.1 744.6,1754.2 776.4,1726.1 807.4,1743.4 838.5,1740.7 869.9,1779.5 900.3,1777.2 932.4,1757.6 962.8,1744.1 994.9,1726.5 1027.0,1700.1 1059.1,1670.4 1089.5,1656.2 1121.6,1641.0 1151.4,1632.6 1182.4,1653.5 1214.5,1673.8 1244.9,1681.6 1277.0,1655.2" fill="none" stroke="#1c6aa3" stroke-width="3.3" stroke-linejoin="round"/>
<g id="topoC">
<g clip-path="url(#tcC)">
<g filter="url(#jetmap)">
<rect x="874.5" y="1747.8" width="321.8" height="323.6" fill="#666666"/>
<ellipse cx="1036.4" cy="1813.6" rx="36.0" ry="30.0" fill="#787878"/>
<ellipse cx="974.4" cy="1807.6" rx="36.0" ry="30.0" fill="#b0b0b0"/>
<ellipse cx="944.4" cy="1835.6" rx="26.0" ry="26.0" fill="#949494"/>
<ellipse cx="927.4" cy="1869.6" rx="20.0" ry="22.0" fill="#7a7a7a"/>
<ellipse cx="965.4" cy="1873.6" rx="24.0" ry="22.0" fill="#757575"/>
<ellipse cx="1121.4" cy="1835.6" rx="40.0" ry="40.0" fill="#b0b0b0"/>
<ellipse cx="1095.4" cy="1813.6" rx="26.0" ry="22.0" fill="#a1a1a1"/>
<ellipse cx="1146.4" cy="1894.6" rx="30.0" ry="34.0" fill="#a1a1a1"/>
<ellipse cx="1137.4" cy="1947.6" rx="24.0" ry="28.0" fill="#8f8f8f"/>
<ellipse cx="1104.4" cy="1861.6" rx="24.0" ry="24.0" fill="#999999"/>
<ellipse cx="1078.4" cy="1833.6" rx="18.0" ry="18.0" fill="#858585"/>
<ellipse cx="935.4" cy="1964.6" rx="26.0" ry="30.0" fill="#5c5c5c"/>
<ellipse cx="1036.4" cy="2023.6" rx="44.0" ry="26.0" fill="#595959"/>
<ellipse cx="985.4" cy="2009.6" rx="30.0" ry="26.0" fill="#5c5c5c"/>
<ellipse cx="1112.4" cy="2006.6" rx="36.0" ry="34.0" fill="#787878"/>
<ellipse cx="1032.4" cy="1919.6" rx="84.0" ry="86.0" fill="#5c5c5c"/>
<ellipse cx="922.4" cy="1913.6" rx="22.0" ry="26.0" fill="#454545"/>
<ellipse cx="947.4" cy="1921.6" rx="22.0" ry="30.0" fill="#474747"/>
<ellipse cx="1032.4" cy="1918.6" rx="68.0" ry="70.0" fill="#303030"/>
<ellipse cx="1027.4" cy="1911.6" rx="50.0" ry="48.0" fill="#1a1a1a"/>
<ellipse cx="1023.4" cy="1909.6" rx="36.0" ry="28.0" fill="#030303"/>
</g>
<g fill="none" stroke="#06122a" stroke-opacity="0.62" stroke-width="1.05">
<path d="M981.9 1935.3C981.9 1931.4 986.0 1926.9 989.5 1921.8C993.0 1916.8 998.5 1910.6 1003.0 1905.0C1007.5 1899.3 1011.4 1892.0 1016.5 1888.1C1021.5 1884.2 1027.1 1881.9 1033.3 1881.4C1039.5 1880.8 1048.8 1881.6 1053.5 1884.7C1058.3 1887.8 1060.6 1894.0 1062.0 1899.9C1063.4 1905.8 1063.4 1915.3 1062.0 1920.1C1060.6 1924.9 1057.8 1927.1 1053.5 1928.5C1049.3 1930.0 1041.2 1926.3 1036.7 1928.5C1032.2 1930.8 1031.6 1938.9 1026.6 1942.0C1021.5 1945.1 1012.5 1946.5 1006.4 1947.1C1000.2 1947.7 993.6 1947.4 989.5 1945.4C985.4 1943.4 981.9 1939.2 981.9 1935.3Z"/>
<path d="M967.6 1945.4C967.0 1937.8 967.9 1928.5 971.0 1921.8C974.0 1915.1 983.3 1912.3 986.1 1905.0C988.9 1897.6 986.7 1886.1 987.8 1878.0C988.9 1869.8 989.2 1860.0 992.9 1856.1C996.5 1852.1 1005.2 1853.0 1009.7 1854.4C1014.2 1855.8 1015.3 1862.3 1019.8 1864.5C1024.3 1866.7 1031.1 1866.2 1036.7 1867.9C1042.3 1869.6 1047.4 1871.2 1053.5 1874.6C1059.7 1878.0 1069.0 1882.5 1073.8 1888.1C1078.6 1893.7 1080.0 1902.7 1082.2 1908.3C1084.4 1913.9 1087.3 1916.2 1087.3 1921.8C1087.3 1927.4 1083.6 1935.3 1082.2 1942.0C1080.8 1948.8 1080.8 1956.4 1078.8 1962.3C1076.9 1968.2 1074.6 1974.9 1070.4 1977.4C1066.2 1980.0 1059.2 1978.6 1053.5 1977.4C1047.9 1976.3 1042.9 1971.8 1036.7 1970.7C1030.5 1969.6 1021.5 1969.0 1016.5 1970.7C1011.4 1972.4 1010.8 1979.7 1006.4 1980.8C1001.9 1981.9 994.8 1979.7 989.5 1977.4C984.2 1975.2 978.0 1972.7 974.3 1967.3C970.7 1962.0 968.2 1953.0 967.6 1945.4Z"/>
<path d="M959.2 1979.1C954.7 1971.2 952.7 1956.6 952.4 1945.4C952.1 1934.2 954.7 1920.1 957.5 1911.7C960.3 1903.3 968.2 1902.1 969.3 1894.8C970.4 1887.5 963.7 1875.2 964.2 1867.9C964.8 1860.6 967.9 1855.2 972.6 1851.0C977.4 1846.8 985.6 1843.7 992.9 1842.6C1000.2 1841.5 1009.2 1841.5 1016.5 1844.3C1023.8 1847.1 1029.1 1856.4 1036.7 1859.4C1044.3 1862.5 1054.1 1859.7 1062.0 1862.8C1069.8 1865.9 1078.0 1871.2 1083.9 1878.0C1089.8 1884.7 1093.2 1897.6 1097.4 1903.3C1101.6 1908.9 1106.6 1906.1 1109.2 1911.7C1111.7 1917.3 1113.9 1928.5 1112.5 1937.0C1111.1 1945.4 1105.0 1954.4 1100.7 1962.3C1096.5 1970.1 1093.7 1978.6 1087.3 1984.2C1080.8 1989.8 1070.4 1993.4 1062.0 1996.0C1053.5 1998.5 1046.5 1999.3 1036.7 1999.3C1026.9 1999.3 1012.5 1997.1 1003.0 1996.0C993.4 1994.8 986.7 1995.4 979.4 1992.6C972.1 1989.8 963.7 1987.0 959.2 1979.1Z"/>
<path d="M949.0 1937.0C949.0 1928.5 950.7 1919.3 952.4 1911.7C954.1 1904.1 958.6 1898.8 959.2 1891.5C959.7 1884.2 954.9 1875.2 955.8 1867.9C956.6 1860.6 959.2 1853.0 964.2 1847.6C969.3 1842.3 977.4 1838.1 986.1 1835.8C994.8 1833.6 1008.6 1833.0 1016.5 1834.2C1024.3 1835.3 1027.1 1839.2 1033.3 1842.6C1039.5 1846.0 1046.0 1851.3 1053.5 1854.4C1061.1 1857.5 1071.8 1856.6 1078.8 1861.1C1085.9 1865.6 1090.9 1874.6 1095.7 1881.4C1100.5 1888.1 1103.3 1896.5 1107.5 1901.6C1111.7 1906.6 1118.2 1905.8 1121.0 1911.7C1123.8 1917.6 1125.7 1927.1 1124.3 1937.0C1122.9 1946.8 1117.9 1960.9 1112.5 1970.7C1107.2 1980.5 1100.7 1989.8 1092.3 1996.0C1083.9 2002.1 1072.7 2005.2 1062.0 2007.8C1051.3 2010.3 1039.5 2011.4 1028.3 2011.1C1017.0 2010.9 1005.0 2009.2 994.6 2006.1C984.2 2003.0 972.9 1999.9 965.9 1992.6C958.9 1985.3 955.2 1971.5 952.4 1962.3C949.6 1953.0 949.0 1945.4 949.0 1937.0Z"/>
<path d="M945.7 1825.7C949.0 1825.5 959.2 1825.7 965.9 1824.0C972.6 1822.4 979.9 1819.3 986.1 1815.6C992.3 1812.0 998.2 1806.4 1003.0 1802.1C1007.8 1797.9 1012.8 1792.3 1014.8 1790.3"/>
<path d="M932.2 1847.6C935.6 1846.5 945.7 1843.4 952.4 1840.9C959.2 1838.4 965.9 1834.7 972.6 1832.5C979.4 1830.2 986.1 1828.3 992.9 1827.4C999.6 1826.6 1007.2 1826.6 1013.1 1827.4C1019.0 1828.3 1025.7 1831.6 1028.3 1832.5"/>
<path d="M1070.4 1793.7C1070.7 1796.5 1073.5 1805.8 1072.1 1810.6C1070.7 1815.3 1065.3 1819.0 1062.0 1822.4C1058.6 1825.7 1053.3 1826.6 1051.9 1830.8C1050.5 1835.0 1051.0 1843.7 1053.5 1847.6C1056.1 1851.6 1061.4 1852.7 1067.0 1854.4C1072.7 1856.1 1082.2 1854.4 1087.3 1857.8C1092.3 1861.1 1094.8 1869.6 1097.4 1874.6C1099.9 1879.7 1101.6 1885.8 1102.4 1888.1"/>
<path d="M1094.0 1803.8C1092.9 1806.4 1090.1 1815.1 1087.3 1819.0C1084.4 1822.9 1078.6 1823.8 1077.1 1827.4C1075.7 1831.1 1076.0 1837.5 1078.8 1840.9C1081.6 1844.3 1090.1 1843.7 1094.0 1847.6C1097.9 1851.6 1100.2 1859.4 1102.4 1864.5C1104.7 1869.6 1106.6 1875.7 1107.5 1878.0"/>
<path d="M1043.4 2028.0C1046.5 2025.5 1054.7 2016.8 1062.0 2012.8C1069.3 2008.9 1079.4 2008.6 1087.3 2004.4C1095.1 2000.2 1102.7 1994.6 1109.2 1987.5C1115.6 1980.5 1122.9 1969.3 1126.0 1962.3C1129.1 1955.2 1127.4 1948.2 1127.7 1945.4"/>
<path d="M914.5 1903.3C916.6 1902.4 922.8 1900.2 927.1 1898.2C931.5 1896.2 937.0 1893.7 940.6 1891.5C944.3 1889.2 947.6 1885.8 949.0 1884.7"/>
<path d="M920.4 1878.0C922.9 1879.4 930.2 1885.0 935.6 1886.4C940.9 1887.8 948.2 1887.8 952.4 1886.4C956.6 1885.0 960.0 1882.2 960.8 1878.0C961.7 1873.8 958.0 1863.9 957.5 1861.1"/>
</g>
</g>
<g fill="none" stroke="#000" stroke-width="3.7" stroke-linejoin="round" stroke-linecap="round">
<path d="M1018.2 1811.6L1030.0 1800.4Q1033.3 1796.6 1036.8 1800.4L1049.4 1811.6"/>
<ellipse cx="1034.2" cy="1909.2" rx="95.2" ry="96.1"/>
<rect x="928.0" y="1887.3" width="11.0" height="48.9" rx="5.5"/>
<rect x="1129.4" y="1887.3" width="11.0" height="48.9" rx="5.5"/>
</g>
<g fill="#000"><circle cx="1034.2" cy="1835.7" r="2.3"/><circle cx="1063.2" cy="1835.7" r="2.3"/><circle cx="1005.2" cy="1835.7" r="2.3"/><circle cx="1034.2" cy="1859.2" r="2.3"/><circle cx="1054.2" cy="1859.2" r="2.3"/><circle cx="1014.2" cy="1859.2" r="2.3"/><circle cx="1074.2" cy="1859.2" r="2.3"/><circle cx="994.2" cy="1859.2" r="2.3"/><circle cx="1094.2" cy="1859.2" r="2.3"/><circle cx="974.2" cy="1859.2" r="2.3"/><circle cx="1034.2" cy="1884.2" r="2.3"/><circle cx="1057.0" cy="1884.2" r="2.3"/><circle cx="1011.4" cy="1884.2" r="2.3"/><circle cx="1079.9" cy="1884.2" r="2.3"/><circle cx="988.5" cy="1884.2" r="2.3"/><circle cx="1102.7" cy="1884.2" r="2.3"/><circle cx="965.7" cy="1884.2" r="2.3"/><circle cx="1034.2" cy="1909.2" r="2.3"/><circle cx="1058.5" cy="1909.2" r="2.3"/><circle cx="1009.9" cy="1909.2" r="2.3"/><circle cx="1081.8" cy="1909.2" r="2.3"/><circle cx="986.6" cy="1909.2" r="2.3"/><circle cx="1106.6" cy="1909.2" r="2.3"/><circle cx="961.8" cy="1909.2" r="2.3"/><circle cx="1034.2" cy="1934.2" r="2.3"/><circle cx="1057.0" cy="1934.2" r="2.3"/><circle cx="1011.4" cy="1934.2" r="2.3"/><circle cx="1079.9" cy="1934.2" r="2.3"/><circle cx="988.5" cy="1934.2" r="2.3"/><circle cx="1102.7" cy="1934.2" r="2.3"/><circle cx="965.7" cy="1934.2" r="2.3"/><circle cx="1034.2" cy="1959.2" r="2.3"/><circle cx="1054.2" cy="1959.2" r="2.3"/><circle cx="1014.2" cy="1959.2" r="2.3"/><circle cx="1074.2" cy="1959.2" r="2.3"/><circle cx="994.2" cy="1959.2" r="2.3"/><circle cx="1094.2" cy="1959.2" r="2.3"/><circle cx="974.2" cy="1959.2" r="2.3"/><circle cx="1034.2" cy="1982.7" r="2.3"/><circle cx="1063.2" cy="1982.7" r="2.3"/><circle cx="1005.2" cy="1982.7" r="2.3"/></g>
</g>
<rect x="196.5" y="1470.4" width="1110.9" height="863.3" fill="none" stroke="#3c3c3c" stroke-width="2.6"/>
<path d="M474.2 2333.7v-12.5M474.2 1470.4v12.5M752.0 2333.7v-12.5M752.0 1470.4v12.5M1029.7 2333.7v-12.5M1029.7 1470.4v12.5M196.5 1614.3h12.5M1307.4 1614.3h-12.5M196.5 1758.2h12.5M1307.4 1758.2h-12.5M196.5 1902.0h12.5M1307.4 1902.0h-12.5M196.5 2045.9h12.5M1307.4 2045.9h-12.5M196.5 2189.8h12.5M1307.4 2189.8h-12.5" stroke="#3c3c3c" stroke-width="2.4" fill="none"/>
<g class="lb" font-size="41.5" fill="#404040" stroke="#fff" stroke-width="0.5">
<text transform="translate(179.2 1488.0) scale(0.985 1.085)" text-anchor="end">0.62</text>
<text transform="translate(179.2 1632.3) scale(0.985 1.085)" text-anchor="end">0.6</text>
<text transform="translate(179.2 1776.5) scale(0.985 1.085)" text-anchor="end">0.58</text>
<text transform="translate(179.2 1920.8) scale(0.985 1.085)" text-anchor="end">0.56</text>
<text transform="translate(179.2 2065.1) scale(0.985 1.085)" text-anchor="end">0.54</text>
<text transform="translate(179.2 2209.3) scale(0.985 1.085)" text-anchor="end">0.52</text>
<text transform="translate(179.2 2353.6) scale(0.985 1.085)" text-anchor="end">0.5</text>
<text transform="translate(197.7 2394.9) scale(0.985 1.085)" text-anchor="middle">1600</text>
<text transform="translate(475.2 2394.9) scale(0.985 1.085)" text-anchor="middle">1700</text>
<text transform="translate(752.7 2394.9) scale(0.985 1.085)" text-anchor="middle">1800</text>
<text transform="translate(1030.2 2394.9) scale(0.985 1.085)" text-anchor="middle">1900</text>
<text transform="translate(1307.7 2394.9) scale(0.985 1.085)" text-anchor="middle">2000</text>
</g>
<text class="lb" x="738.8" y="2488.4" font-size="64.1" text-anchor="middle" fill="#000">time (ms)</text>
<text class="lb" transform="translate(60.7 1921.7) rotate(-90)" font-size="64.1" text-anchor="middle" fill="#000">Az (gain vs neutral)</text>
<rect x="1338.9" y="1471.9" width="30.3" height="297.7" fill="url(#jet)" stroke="#000" stroke-opacity="0.6" stroke-width="2"/>
<g class="lb" font-size="27" fill="#404040">
<text transform="translate(1380.3 1514.5) scale(1.316 1.21)">2</text>
<text transform="translate(1380.3 1574.7) scale(1.316 1.21)">1</text>
<text transform="translate(1380.3 1634.9) scale(1.316 1.21)">0</text>
<text transform="translate(1380.3 1695.1) scale(1.316 1.21)">-<tspan dx="-2.1">1</tspan></text>
<text transform="translate(1380.3 1755.3) scale(1.316 1.21)">-<tspan dx="-2.1">2</tspan></text>
</g>
</g>
<g id="panelD">
<text class="dv" x="1489.1" y="1422.1" font-size="106" font-weight="bold" fill="#000">D</text>
<text class="dv" x="1771.8" y="1410.5" font-size="63.9" fill="#000">Gain &gt; Neutral discrimination</text>
<polygon points="1701.4,1573.4 1717.6,1577.8 1748.0,1579.5 1777.7,1581.2 1808.8,1572.8 1842.6,1581.9 1873.0,1564.3 1903.4,1551.5 1935.5,1558.2 1967.6,1548.1 1998.0,1533.6 2030.1,1540.7 2061.5,1576.1 2093.2,1557.6 2124.7,1560.9 2155.1,1568.4 2187.2,1560.9 2219.3,1548.1 2249.1,1524.5 2281.2,1503.2 2312.6,1501.5 2343.7,1494.1 2374.1,1500.8 2406.2,1515.0 2437.3,1504.9 2468.7,1531.2 2500.8,1581.2 2531.9,1566.7 2563.3,1571.8 2593.7,1560.6 2625.1,1572.8 2656.2,1586.3 2687.3,1548.1 2718.7,1527.8 2750.8,1515.0 2781.2,1505.9 2781.2,1737.3 2750.8,1750.8 2718.7,1762.6 2687.3,1777.8 2656.2,1815.7 2625.1,1798.1 2593.7,1785.3 2563.3,1782.9 2531.9,1775.1 2500.8,1788.0 2468.7,1727.2 2437.3,1702.8 2406.2,1721.1 2374.1,1710.3 2343.7,1706.9 2312.6,1726.5 2281.2,1730.5 2249.1,1757.6 2219.3,1782.9 2187.2,1792.0 2155.1,1788.0 2124.7,1776.1 2093.2,1772.8 2061.5,1794.1 2030.1,1751.5 1998.0,1740.7 1967.6,1762.6 1935.5,1777.2 1903.4,1760.3 1873.0,1777.8 1842.6,1794.7 1808.8,1784.6 1777.7,1793.0 1748.0,1789.7 1717.6,1789.7 1701.4,1783.9" fill="#cee4f5"/>
<line x1="1701.4" y1="1683.5" x2="2812.3" y2="1683.5" stroke="#e84e55" stroke-width="2.7" stroke-dasharray="26.03 15.19" stroke-dashoffset="3.6"/>
<text class="dv" x="1718.8" y="1656.7" font-size="71" fill="#d40000"><tspan font-style="italic">p</tspan> = 0.05</text>
<polyline points="1701.4,1678.2 1717.6,1683.2 1748.0,1684.9 1777.7,1688.3 1808.8,1678.2 1842.6,1690.0 1873.0,1668.0 1903.4,1654.5 1935.5,1668.0 1967.6,1656.2 1998.0,1637.0 2030.1,1645.1 2061.5,1685.9 2093.2,1663.6 2124.7,1667.0 2155.1,1677.5 2187.2,1675.8 2219.3,1664.7 2249.1,1639.3 2281.2,1615.7 2312.6,1613.0 2343.7,1598.8 2374.1,1604.9 2406.2,1618.4 2437.3,1602.8 2468.7,1625.1 2500.8,1685.9 2531.9,1670.4 2563.3,1677.5 2593.7,1672.1 2625.1,1683.9 2656.2,1701.8 2687.3,1663.0 2718.7,1645.4 2750.8,1633.2 2781.2,1622.4" fill="none" stroke="#1c6aa3" stroke-width="3.3" stroke-linejoin="round"/>
<g id="topoD">
<g clip-path="url(#tcD)">
<g filter="url(#jetmap)">
<rect x="2389.5" y="1761.1" width="318.4" height="319.4" fill="#616161"/>
<ellipse cx="2475.7" cy="1830.8" rx="42.0" ry="38.0" fill="#737373"/>
<ellipse cx="2441.7" cy="1909.8" rx="30.0" ry="34.0" fill="#6e6e6e"/>
<ellipse cx="2455.7" cy="1882.8" rx="20.0" ry="20.0" fill="#707070"/>
<ellipse cx="2551.7" cy="1814.8" rx="26.0" ry="20.0" fill="#616161"/>
<ellipse cx="2610.7" cy="1909.8" rx="36.0" ry="52.0" fill="#8c8c8c"/>
<ellipse cx="2602.7" cy="1858.8" rx="26.0" ry="26.0" fill="#919191"/>
<ellipse cx="2618.7" cy="1953.8" rx="30.0" ry="30.0" fill="#7a7a7a"/>
<ellipse cx="2590.7" cy="1965.8" rx="22.0" ry="20.0" fill="#5c5c5c"/>
<ellipse cx="2551.7" cy="1840.8" rx="40.0" ry="13.0" fill="#5e5e5e"/>
<ellipse cx="2551.7" cy="2028.8" rx="30.0" ry="13.0" fill="#6b6b6b"/>
<ellipse cx="2627.7" cy="1840.8" rx="22.0" ry="24.0" fill="#adadad"/>
<ellipse cx="2655.7" cy="1862.8" rx="19.0" ry="28.0" fill="#dbdbdb"/>
<ellipse cx="2661.7" cy="1909.8" rx="17.0" ry="24.0" fill="#b8b8b8"/>
<ellipse cx="2662.7" cy="1945.8" rx="18.0" ry="24.0" fill="#9e9e9e"/>
<ellipse cx="2627.7" cy="2012.8" rx="42.0" ry="40.0" fill="#adadad"/>
<ellipse cx="2593.7" cy="2034.8" rx="26.0" ry="22.0" fill="#a8a8a8"/>
<ellipse cx="2568.7" cy="2020.8" rx="20.0" ry="18.0" fill="#808080"/>
<ellipse cx="2475.7" cy="1995.8" rx="26.0" ry="28.0" fill="#4c4c4c"/>
<ellipse cx="2500.7" cy="2004.8" rx="36.0" ry="34.0" fill="#333333"/>
<ellipse cx="2551.7" cy="1986.8" rx="26.0" ry="22.0" fill="#383838"/>
<ellipse cx="2521.7" cy="1924.8" rx="50.0" ry="70.0" fill="#333333"/>
<ellipse cx="2517.7" cy="1978.8" rx="11.0" ry="17.0" fill="#545454"/>
<ellipse cx="2522.7" cy="1912.8" rx="32.0" ry="24.0" fill="#0d0d0d"/>
</g>
<g fill="none" stroke="#06122a" stroke-opacity="0.62" stroke-width="1.05">
<path d="M2486.0 1923.3C2486.0 1918.5 2487.9 1911.5 2491.0 1906.5C2494.1 1901.4 2498.9 1896.2 2504.5 1893.0C2510.1 1889.8 2518.0 1888.1 2524.7 1887.1C2531.5 1886.1 2539.6 1885.0 2545.0 1887.1C2550.3 1889.2 2555.1 1894.5 2556.8 1899.7C2558.4 1904.9 2556.5 1912.4 2555.1 1918.3C2553.7 1924.2 2552.8 1931.2 2548.3 1935.1C2543.8 1939.1 2535.4 1941.0 2528.1 1941.9C2520.8 1942.7 2510.7 1941.3 2504.5 1940.2C2498.3 1939.1 2494.1 1937.9 2491.0 1935.1C2487.9 1932.3 2486.0 1928.1 2486.0 1923.3Z"/>
<path d="M2484.3 1871.1C2485.4 1866.6 2490.2 1865.2 2494.4 1862.6C2498.6 1860.1 2504.8 1857.9 2509.6 1855.9C2514.3 1853.9 2518.8 1850.6 2523.0 1850.8C2527.3 1851.1 2530.9 1855.1 2534.8 1857.6C2538.8 1860.1 2542.1 1863.5 2546.6 1866.0C2551.1 1868.5 2558.2 1868.8 2561.8 1872.8C2565.5 1876.7 2566.0 1883.7 2568.5 1889.6C2571.1 1895.5 2575.9 1902.5 2577.0 1908.2C2578.1 1913.8 2577.5 1918.8 2575.3 1923.3C2573.0 1927.8 2566.6 1930.3 2563.5 1935.1C2560.4 1939.9 2557.3 1947.2 2556.8 1952.0C2556.2 1956.8 2557.0 1960.1 2560.1 1963.8C2563.2 1967.4 2573.9 1970.0 2575.3 1973.9C2576.7 1977.8 2572.5 1984.0 2568.5 1987.4C2564.6 1990.7 2556.8 1993.3 2551.7 1994.1C2546.6 1995.0 2540.7 1994.7 2538.2 1992.4C2535.7 1990.2 2535.7 1984.6 2536.5 1980.6C2537.4 1976.7 2544.1 1972.5 2543.3 1968.8C2542.4 1965.2 2536.0 1960.4 2531.5 1958.7C2527.0 1957.0 2520.0 1957.0 2516.3 1958.7C2512.6 1960.4 2509.8 1964.3 2509.6 1968.8C2509.3 1973.3 2513.2 1980.6 2514.6 1985.7C2516.0 1990.7 2518.8 1995.0 2518.0 1999.2C2517.1 2003.4 2514.1 2008.4 2509.6 2011.0C2505.1 2013.5 2496.4 2014.9 2491.0 2014.3C2485.7 2013.8 2480.3 2011.2 2477.5 2007.6C2474.7 2003.9 2473.6 1998.0 2474.2 1992.4C2474.7 1986.8 2480.6 1980.6 2480.9 1973.9C2481.2 1967.1 2477.3 1959.3 2475.8 1952.0C2474.4 1944.7 2471.9 1937.1 2472.5 1930.1C2473.0 1923.0 2476.7 1916.6 2479.2 1909.8C2481.7 1903.1 2486.8 1896.1 2487.6 1889.6C2488.5 1883.2 2483.2 1875.6 2484.3 1871.1Z"/>
<path d="M2590.5 1830.6C2589.1 1832.6 2585.1 1839.0 2582.0 1842.4C2578.9 1845.8 2573.3 1846.4 2571.9 1850.8C2570.5 1855.3 2571.6 1863.8 2573.6 1869.4C2575.6 1875.0 2579.5 1881.5 2583.7 1884.6C2587.9 1887.6 2594.7 1886.0 2598.9 1887.9C2603.1 1889.9 2608.4 1892.1 2609.0 1896.4C2609.6 1900.6 2605.6 1908.2 2602.3 1913.2C2598.9 1918.3 2593.3 1922.8 2588.8 1926.7C2584.3 1930.6 2578.7 1933.7 2575.3 1936.8C2571.9 1939.9 2568.3 1943.0 2568.5 1945.2C2568.8 1947.5 2573.3 1950.6 2577.0 1950.3C2580.6 1950.0 2586.2 1944.7 2590.5 1943.5C2594.7 1942.4 2598.9 1941.9 2602.3 1943.5C2605.6 1945.2 2609.6 1949.4 2610.7 1953.7C2611.8 1957.9 2611.2 1963.5 2609.0 1968.8C2606.8 1974.2 2601.7 1981.8 2597.2 1985.7C2592.7 1989.6 2586.8 1989.9 2582.0 1992.4C2577.3 1995.0 2570.8 1999.5 2568.5 2000.9"/>
<path d="M2592.1 1812.1C2592.4 1815.2 2595.0 1824.4 2593.8 1830.6C2592.7 1836.8 2587.1 1843.5 2585.4 1849.2C2583.7 1854.8 2582.6 1860.1 2583.7 1864.3C2584.8 1868.5 2589.1 1873.6 2592.1 1874.4C2595.2 1875.3 2598.9 1870.2 2602.3 1869.4C2605.6 1868.5 2610.7 1869.4 2612.4 1869.4"/>
<path d="M2605.6 1818.8C2605.9 1820.8 2605.1 1825.8 2607.3 1830.6C2609.6 1835.4 2614.9 1841.0 2619.1 1847.5C2623.3 1853.9 2628.9 1861.8 2632.6 1869.4C2636.2 1877.0 2638.2 1886.2 2641.0 1893.0C2643.8 1899.7 2645.8 1904.2 2649.5 1909.8C2653.1 1915.5 2660.7 1923.9 2662.9 1926.7"/>
<path d="M2620.8 1827.3C2621.4 1829.8 2621.1 1836.5 2624.2 1842.4C2627.3 1848.3 2634.6 1855.9 2639.3 1862.6C2644.1 1869.4 2648.9 1875.6 2652.8 1882.9C2656.8 1890.2 2661.3 1902.5 2662.9 1906.5"/>
<path d="M2432.0 1901.4C2433.4 1898.3 2436.8 1887.6 2440.5 1882.9C2444.1 1878.1 2449.4 1873.9 2453.9 1872.8C2458.4 1871.6 2464.3 1873.3 2467.4 1876.1C2470.5 1878.9 2472.5 1884.6 2472.5 1889.6C2472.5 1894.7 2470.2 1902.3 2467.4 1906.5C2464.6 1910.7 2457.6 1913.5 2455.6 1914.9"/>
<path d="M2460.7 1842.4C2463.5 1842.7 2472.5 1844.1 2477.5 1844.1C2482.6 1844.1 2488.8 1842.7 2491.0 1842.4"/>
<path d="M2504.5 2032.9C2507.3 2031.5 2516.3 2027.0 2521.4 2024.5C2526.4 2021.9 2529.8 2019.4 2534.8 2017.7C2539.9 2016.0 2546.1 2015.7 2551.7 2014.3C2557.3 2012.9 2561.5 2011.5 2568.5 2009.3C2575.6 2007.0 2586.0 2004.5 2593.8 2000.9C2601.7 1997.2 2609.3 1992.7 2615.7 1987.4C2622.2 1982.0 2629.8 1971.9 2632.6 1968.8"/>
<path d="M2528.1 2037.9C2530.6 2036.3 2537.9 2030.9 2543.3 2027.8C2548.6 2024.7 2553.1 2021.6 2560.1 2019.4C2567.1 2017.1 2577.0 2017.1 2585.4 2014.3C2593.8 2011.5 2602.3 2007.9 2610.7 2002.5C2619.1 1997.2 2629.5 1989.3 2636.0 1982.3C2642.4 1975.3 2647.2 1964.1 2649.5 1960.4"/>
<path d="M2555.1 2039.6C2557.9 2037.7 2565.5 2030.9 2571.9 2027.8C2578.4 2024.7 2586.0 2023.9 2593.8 2021.1C2601.7 2018.3 2611.2 2015.5 2619.1 2011.0C2627.0 2006.5 2634.8 2000.9 2641.0 1994.1C2647.2 1987.4 2653.7 1974.4 2656.2 1970.5"/>
<path d="M2455.6 1992.4C2457.0 1988.5 2461.5 1975.6 2464.0 1968.8C2466.6 1962.1 2469.7 1954.8 2470.8 1952.0"/>
</g>
</g>
<g fill="none" stroke="#000" stroke-width="4.4" stroke-linejoin="round" stroke-linecap="round">
<path d="M2533.2 1825.8L2545.7 1814.5Q2549.2 1810.7 2552.9 1814.5L2566.0 1825.8"/>
<ellipse cx="2550.0" cy="1921.6" rx="93.5" ry="94.4"/>
<rect x="2444.7" y="1899.0" width="11.6" height="49.5" rx="5.8"/>
<rect x="2643.8" y="1899.0" width="10.7" height="49.5" rx="5.3"/>
</g>
<g fill="#000"><circle cx="2550.0" cy="1849.4" r="2.7"/><circle cx="2578.5" cy="1849.4" r="2.7"/><circle cx="2521.5" cy="1849.4" r="2.7"/><circle cx="2550.0" cy="1872.5" r="2.7"/><circle cx="2569.6" cy="1872.5" r="2.7"/><circle cx="2530.4" cy="1872.5" r="2.7"/><circle cx="2589.3" cy="1872.5" r="2.7"/><circle cx="2510.7" cy="1872.5" r="2.7"/><circle cx="2608.9" cy="1872.5" r="2.7"/><circle cx="2491.1" cy="1872.5" r="2.7"/><circle cx="2550.0" cy="1897.1" r="2.7"/><circle cx="2572.4" cy="1897.1" r="2.7"/><circle cx="2527.6" cy="1897.1" r="2.7"/><circle cx="2594.9" cy="1897.1" r="2.7"/><circle cx="2505.1" cy="1897.1" r="2.7"/><circle cx="2617.3" cy="1897.1" r="2.7"/><circle cx="2482.7" cy="1897.1" r="2.7"/><circle cx="2550.0" cy="1921.6" r="2.7"/><circle cx="2573.8" cy="1921.6" r="2.7"/><circle cx="2526.2" cy="1921.6" r="2.7"/><circle cx="2596.8" cy="1921.6" r="2.7"/><circle cx="2503.2" cy="1921.6" r="2.7"/><circle cx="2621.1" cy="1921.6" r="2.7"/><circle cx="2478.9" cy="1921.6" r="2.7"/><circle cx="2550.0" cy="1946.1" r="2.7"/><circle cx="2572.4" cy="1946.1" r="2.7"/><circle cx="2527.6" cy="1946.1" r="2.7"/><circle cx="2594.9" cy="1946.1" r="2.7"/><circle cx="2505.1" cy="1946.1" r="2.7"/><circle cx="2617.3" cy="1946.1" r="2.7"/><circle cx="2482.7" cy="1946.1" r="2.7"/><circle cx="2550.0" cy="1970.7" r="2.7"/><circle cx="2569.6" cy="1970.7" r="2.7"/><circle cx="2530.4" cy="1970.7" r="2.7"/><circle cx="2589.3" cy="1970.7" r="2.7"/><circle cx="2510.7" cy="1970.7" r="2.7"/><circle cx="2608.9" cy="1970.7" r="2.7"/><circle cx="2491.1" cy="1970.7" r="2.7"/><circle cx="2550.0" cy="1993.8" r="2.7"/><circle cx="2578.5" cy="1993.8" r="2.7"/><circle cx="2521.5" cy="1993.8" r="2.7"/></g>
</g>
<rect x="1701.4" y="1461.4" width="1110.9" height="874.6" fill="none" stroke="#3c3c3c" stroke-width="2.6"/>
<path d="M1979.1 2336.0v-12.5M1979.1 1461.4v12.5M2256.9 2336.0v-12.5M2256.9 1461.4v12.5M2534.6 2336.0v-12.5M2534.6 1461.4v12.5M1701.4 1607.2h12.5M2812.3 1607.2h-12.5M1701.4 1752.9h12.5M2812.3 1752.9h-12.5M1701.4 1898.7h12.5M2812.3 1898.7h-12.5M1701.4 2044.5h12.5M2812.3 2044.5h-12.5M1701.4 2190.2h12.5M2812.3 2190.2h-12.5" stroke="#3c3c3c" stroke-width="2.4" fill="none"/>
<g class="lb" font-size="41.5" fill="#404040" stroke="#fff" stroke-width="0.5">
<text transform="translate(1684.2 1479.0) scale(0.985 1.085)" text-anchor="end">0.62</text>
<text transform="translate(1684.2 1625.1) scale(0.985 1.085)" text-anchor="end">0.6</text>
<text transform="translate(1684.2 1771.3) scale(0.985 1.085)" text-anchor="end">0.58</text>
<text transform="translate(1684.2 1917.4) scale(0.985 1.085)" text-anchor="end">0.56</text>
<text transform="translate(1684.2 2063.6) scale(0.985 1.085)" text-anchor="end">0.54</text>
<text transform="translate(1684.2 2209.7) scale(0.985 1.085)" text-anchor="end">0.52</text>
<text transform="translate(1684.2 2355.9) scale(0.985 1.085)" text-anchor="end">0.5</text>
<text transform="translate(1702.6 2397.1) scale(0.985 1.085)" text-anchor="middle">1600</text>
<text transform="translate(1980.1 2397.1) scale(0.985 1.085)" text-anchor="middle">1700</text>
<text transform="translate(2257.6 2397.1) scale(0.985 1.085)" text-anchor="middle">1800</text>
<text transform="translate(2535.1 2397.1) scale(0.985 1.085)" text-anchor="middle">1900</text>
<text transform="translate(2812.6 2397.1) scale(0.985 1.085)" text-anchor="middle">2000</text>
</g>
<text class="lb" x="2247.5" y="2488.4" font-size="64.1" text-anchor="middle" fill="#000">time (ms)</text>
<text class="lb" transform="translate(1550.8 1921.7) rotate(-90)" font-size="64.1" text-anchor="middle" fill="#000">Az (gain vs neutral)</text>
<rect x="2844.3" y="1459.2" width="30.1" height="297.7" fill="url(#jet)" stroke="#000" stroke-opacity="0.6" stroke-width="2"/>
<g class="lb" font-size="27" fill="#404040">
<text transform="translate(2885.2 1501.9) scale(1.316 1.21)">2</text>
<text transform="translate(2885.2 1562.0) scale(1.316 1.21)">1</text>
<text transform="translate(2885.2 1622.1) scale(1.316 1.21)">0</text>
<text transform="translate(2885.2 1682.2) scale(1.316 1.21)">-<tspan dx="-2.1">1</tspan></text>
<text transform="translate(2885.2 1742.3) scale(1.316 1.21)">-<tspan dx="-2.1">2</tspan></text>
</g>
</g>
</svg></body></html>
